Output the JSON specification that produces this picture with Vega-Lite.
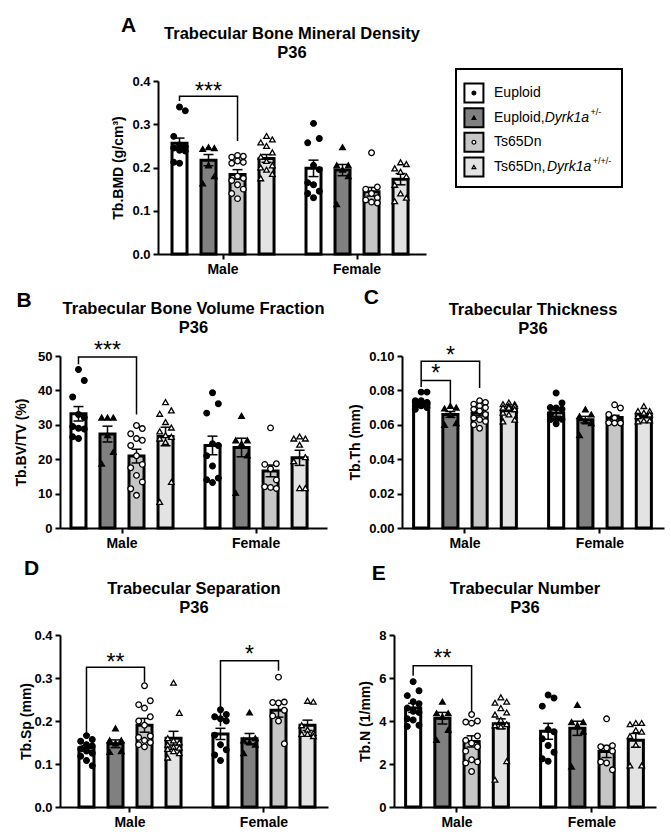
{
  "$schema": "https://vega.github.io/schema/vega-lite/v6.json",
  "background": "white",
  "padding": {"left": 14, "top": 14, "right": 5, "bottom": 5},
  "spacing": 11,
  "config": {
    "font": "Liberation Sans",
    "view": {"stroke": null},
    "axis": {"domainColor": "black", "domainWidth": 2, "tickColor": "black", "tickWidth": 2, "tickSize": 5, "labelFont": "Liberation Sans", "labelFontWeight": "bold", "labelFontSize": 13, "labelColor": "black", "titleFont": "Liberation Sans", "titleFontWeight": "bold", "titleFontSize": 14, "titleColor": "black", "grid": false, "titlePadding": 6, "labelPadding": 3},
    "axisX": {"labelFontSize": 14, "labelAngle": 0},
    "title": {"font": "Liberation Sans", "fontWeight": "bold", "fontSize": 16.5, "color": "black", "lineHeight": 19}
  },
  "datasets": {
    "pts": [
      {"p":"A","s":"Male","g":"Eu","v":[0.340,0.331,0.272,0.252,0.248,0.245,0.240,0.238,0.212,0.210]},
      {"p":"A","s":"Male","g":"EuDy","v":[0.247,0.245,0.243,0.205,0.180,0.163]},
      {"p":"A","s":"Male","g":"Ts","v":[0.228,0.226,0.224,0.215,0.212,0.210,0.180,0.175,0.170,0.160,0.150,0.140,0.128]},
      {"p":"A","s":"Male","g":"TsDy","v":[0.273,0.265,0.258,0.250,0.235,0.225,0.215,0.205,0.200,0.195,0.185,0.175]},
      {"p":"A","s":"Female","g":"Eu","v":[0.302,0.267,0.257,0.205,0.195,0.165,0.160,0.145,0.140,0.130]},
      {"p":"A","s":"Female","g":"EuDy","v":[0.247,0.205,0.205,0.195,0.180,0.115]},
      {"p":"A","s":"Female","g":"Ts","v":[0.234,0.155,0.150,0.140,0.130,0.125,0.120,0.118]},
      {"p":"A","s":"Female","g":"TsDy","v":[0.212,0.208,0.198,0.190,0.180,0.160,0.140,0.130,0.122]},
      {"p":"B","s":"Male","g":"Eu","v":[46.1,42.9,38.1,33.0,32.1,29.5,29.0,28.8,26.5,26.0]},
      {"p":"B","s":"Male","g":"EuDy","v":[32.1,32.1,32.1,27.0,22.1,18.7]},
      {"p":"B","s":"Male","g":"Ts","v":[29.8,28.9,27.4,26.0,25.5,24.0,21.0,18.5,17.5,15.3,13.4,11.4,9.5]},
      {"p":"B","s":"Male","g":"TsDy","v":[36.6,34.2,33.2,30.8,29.2,28.1,27.0,26.5,26.0,25.0,13.4,7.6]},
      {"p":"B","s":"Female","g":"Eu","v":[39.3,36.1,33.4,24.5,24.0,21.0,18.0,14.5,14.0,13.2]},
      {"p":"B","s":"Female","g":"EuDy","v":[32.6,25.5,25.5,24.5,21.1,10.2]},
      {"p":"B","s":"Female","g":"Ts","v":[29.1,18.7,18.5,17.2,14.0,12.0,11.8,11.5]},
      {"p":"B","s":"Female","g":"TsDy","v":[26.6,26.0,26.0,24.2,20.6,19.4,11.6,11.6]},
      {"p":"C","s":"Male","g":"Eu","v":[0.079,0.079,0.074,0.074,0.073,0.073,0.072,0.072,0.071,0.071,0.070,0.069]},
      {"p":"C","s":"Male","g":"EuDy","v":[0.071,0.070,0.0695,0.066,0.061,0.060]},
      {"p":"C","s":"Male","g":"Ts","v":[0.074,0.073,0.072,0.071,0.070,0.069,0.068,0.066,0.064,0.063,0.062,0.060,0.058]},
      {"p":"C","s":"Male","g":"TsDy","v":[0.073,0.072,0.072,0.071,0.071,0.070,0.070,0.069,0.067,0.066,0.063,0.062]},
      {"p":"C","s":"Female","g":"Eu","v":[0.0785,0.0727,0.070,0.0698,0.069,0.066,0.0632,0.0632,0.063,0.0606]},
      {"p":"C","s":"Female","g":"EuDy","v":[0.069,0.066,0.065,0.062,0.061,0.054]},
      {"p":"C","s":"Female","g":"Ts","v":[0.0716,0.0698,0.066,0.064,0.0612,0.0612,0.061,0.061]},
      {"p":"C","s":"Female","g":"TsDy","v":[0.0709,0.068,0.068,0.067,0.066,0.065,0.0625,0.0625,0.062]},
      {"p":"D","s":"Male","g":"Eu","v":[0.166,0.157,0.153,0.145,0.142,0.135,0.130,0.125,0.118,0.108,0.096]},
      {"p":"D","s":"Male","g":"EuDy","v":[0.183,0.155,0.155,0.148,0.130,0.128]},
      {"p":"D","s":"Male","g":"Ts","v":[0.282,0.247,0.238,0.230,0.210,0.200,0.190,0.165,0.162,0.155,0.150,0.145,0.140]},
      {"p":"D","s":"Male","g":"TsDy","v":[0.289,0.219,0.160,0.155,0.150,0.145,0.140,0.138,0.135,0.130,0.125,0.115]},
      {"p":"D","s":"Female","g":"Eu","v":[0.226,0.215,0.210,0.205,0.200,0.167,0.145,0.133,0.121,0.108]},
      {"p":"D","s":"Female","g":"EuDy","v":[0.220,0.160,0.155,0.150,0.145,0.125]},
      {"p":"D","s":"Female","g":"Ts","v":[0.302,0.244,0.243,0.242,0.225,0.212,0.200,0.147]},
      {"p":"D","s":"Female","g":"TsDy","v":[0.247,0.245,0.190,0.180,0.172,0.170,0.170,0.165]},
      {"p":"E","s":"Male","g":"Eu","v":[5.83,5.41,5.18,4.90,4.80,4.60,4.45,4.40,4.10,4.05,3.80,3.75]},
      {"p":"E","s":"Male","g":"EuDy","v":[4.90,4.36,4.36,4.20,3.59,3.12]},
      {"p":"E","s":"Male","g":"Ts","v":[4.30,4.00,3.95,3.90,3.30,3.10,2.97,2.80,2.60,2.20,2.10,2.05,1.65]},
      {"p":"E","s":"Male","g":"TsDy","v":[5.10,4.90,4.85,4.60,4.40,4.30,4.05,3.85,3.80,3.75,2.13,1.27]},
      {"p":"E","s":"Female","g":"Eu","v":[5.21,5.07,4.69,3.60,3.50,3.17,2.86,2.55,2.24,2.13]},
      {"p":"E","s":"Female","g":"EuDy","v":[4.75,3.95,3.95,3.80,3.50,1.88]},
      {"p":"E","s":"Female","g":"Ts","v":[4.10,2.85,2.80,2.75,2.60,2.10,2.05,1.73]},
      {"p":"E","s":"Female","g":"TsDy","v":[3.91,3.91,3.85,3.57,3.50,3.30,2.90,1.93,1.93]}
    ],
    "sum": [
      {"p":"A","s":"Male","g":"Eu","m":0.256,"e":0.012},{"p":"A","s":"Male","g":"EuDy","m":0.217,"e":0.013},{"p":"A","s":"Male","g":"Ts","m":0.184,"e":0.011},{"p":"A","s":"Male","g":"TsDy","m":0.221,"e":0.009},
      {"p":"A","s":"Female","g":"Eu","m":0.198,"e":0.019},{"p":"A","s":"Female","g":"EuDy","m":0.194,"e":0.013},{"p":"A","s":"Female","g":"Ts","m":0.144,"e":0.010},{"p":"A","s":"Female","g":"TsDy","m":0.173,"e":0.013},
      {"p":"B","s":"Male","g":"Eu","m":33.2,"e":2.1},{"p":"B","s":"Male","g":"EuDy","m":27.3,"e":2.3},{"p":"B","s":"Male","g":"Ts","m":20.9,"e":2.0},{"p":"B","s":"Male","g":"TsDy","m":26.6,"e":2.7},
      {"p":"B","s":"Female","g":"Eu","m":24.0,"e":2.7},{"p":"B","s":"Female","g":"EuDy","m":23.4,"e":2.7},{"p":"B","s":"Female","g":"Ts","m":16.6,"e":1.7},{"p":"B","s":"Female","g":"TsDy","m":20.4,"e":2.2},
      {"p":"C","s":"Male","g":"Eu","m":0.0728,"e":0.001},{"p":"C","s":"Male","g":"EuDy","m":0.066,"e":0.0017},{"p":"C","s":"Male","g":"Ts","m":0.0667,"e":0.0015},{"p":"C","s":"Male","g":"TsDy","m":0.0686,"e":0.0008},
      {"p":"C","s":"Female","g":"Eu","m":0.0668,"e":0.0018},{"p":"C","s":"Female","g":"EuDy","m":0.063,"e":0.0019},{"p":"C","s":"Female","g":"Ts","m":0.0642,"e":0.0013},{"p":"C","s":"Female","g":"TsDy","m":0.0652,"e":0.0011},
      {"p":"D","s":"Male","g":"Eu","m":0.137,"e":0.006},{"p":"D","s":"Male","g":"EuDy","m":0.147,"e":0.009},{"p":"D","s":"Male","g":"Ts","m":0.190,"e":0.016},{"p":"D","s":"Male","g":"TsDy","m":0.160,"e":0.016},
      {"p":"D","s":"Female","g":"Eu","m":0.170,"e":0.013},{"p":"D","s":"Female","g":"EuDy","m":0.159,"e":0.012},{"p":"D","s":"Female","g":"Ts","m":0.225,"e":0.016},{"p":"D","s":"Female","g":"TsDy","m":0.190,"e":0.012},
      {"p":"E","s":"Male","g":"Eu","m":4.61,"e":0.21},{"p":"E","s":"Male","g":"EuDy","m":4.13,"e":0.27},{"p":"E","s":"Male","g":"Ts","m":3.05,"e":0.26},{"p":"E","s":"Male","g":"TsDy","m":3.87,"e":0.23},
      {"p":"E","s":"Female","g":"Eu","m":3.52,"e":0.37},{"p":"E","s":"Female","g":"EuDy","m":3.66,"e":0.33},{"p":"E","s":"Female","g":"Ts","m":2.58,"e":0.28},{"p":"E","s":"Female","g":"TsDy","m":3.10,"e":0.32}
    ],
    "br": [
      {"p":"A","id":"a","s":"Male","o":0.5,"v":0.354,"k":1},{"p":"A","id":"a","s":"Male","o":0.5,"v":0.365,"k":2},{"p":"A","id":"a","s":"Male","o":2.5,"v":0.365,"k":3},{"p":"A","id":"a","s":"Male","o":2.5,"v":0.261,"k":4},
      {"p":"B","id":"b","s":"Male","o":0.5,"v":47.6,"k":1},{"p":"B","id":"b","s":"Male","o":0.5,"v":49.7,"k":2},{"p":"B","id":"b","s":"Male","o":2.5,"v":49.7,"k":3},{"p":"B","id":"b","s":"Male","o":2.5,"v":33.0,"k":4},
      {"p":"C","id":"c1","s":"Male","o":0.5,"v":0.082,"k":1},{"p":"C","id":"c1","s":"Male","o":0.5,"v":0.0969,"k":2},{"p":"C","id":"c1","s":"Male","o":2.5,"v":0.0969,"k":3},{"p":"C","id":"c1","s":"Male","o":2.5,"v":0.0814,"k":4},
      {"p":"C","id":"c2","s":"Male","o":0.5,"v":0.0858,"k":1},{"p":"C","id":"c2","s":"Male","o":1.5,"v":0.0858,"k":2},{"p":"C","id":"c2","s":"Male","o":1.5,"v":0.0723,"k":3},
      {"p":"D","id":"d1","s":"Male","o":0.5,"v":0.172,"k":1},{"p":"D","id":"d1","s":"Male","o":0.5,"v":0.325,"k":2},{"p":"D","id":"d1","s":"Male","o":2.5,"v":0.325,"k":3},{"p":"D","id":"d1","s":"Male","o":2.5,"v":0.290,"k":4},
      {"p":"D","id":"d2","s":"Female","o":0.5,"v":0.188,"k":1},{"p":"D","id":"d2","s":"Female","o":0.5,"v":0.340,"k":2},{"p":"D","id":"d2","s":"Female","o":2.5,"v":0.340,"k":3},{"p":"D","id":"d2","s":"Female","o":2.5,"v":0.317,"k":4},
      {"p":"E","id":"e","s":"Male","o":0.5,"v":6.1,"k":1},{"p":"E","id":"e","s":"Male","o":0.5,"v":6.57,"k":2},{"p":"E","id":"e","s":"Male","o":2.5,"v":6.57,"k":3},{"p":"E","id":"e","s":"Male","o":2.5,"v":4.44,"k":4}
    ],
    "st": [
      {"p":"A","s":"Male","o":1.5,"v":0.359,"t":"***"},
      {"p":"B","s":"Male","o":1.5,"v":49.3,"t":"***"},
      {"p":"C","s":"Male","o":1.5,"v":0.0960,"t":"*"},
      {"p":"C","s":"Male","o":1.0,"v":0.0853,"t":"*"},
      {"p":"D","s":"Male","o":1.5,"v":0.319,"t":"**"},
      {"p":"D","s":"Female","o":1.5,"v":0.338,"t":"*"},
      {"p":"E","s":"Male","o":1.5,"v":6.535,"t":"**"}
    ]
  },
  "vconcat": [
    {
      "spacing": 29,
      "hconcat": [
        {"width": 22, "height": 10, "data": {"values": []}, "mark": "point"},
        {
          "title": {"text": "A", "anchor": "start", "fontSize": 21, "dy": 14, "dx": 9},
          "vconcat": [
            {
              "width": 268, "height": 173,
              "title": {"text": ["Trabecular Bone Mineral Density", "P36"], "frame": "group", "offset": 14},
              "encoding": {
                "x": {"field": "s", "type": "nominal", "sort": ["Male", "Female"], "title": null, "scale": {"paddingInner": 0.134, "paddingOuter": 0.067, "align": 0.39}},
                "y": {"field": "v", "type": "quantitative", "title": "Tb.BMD (g/cm³)", "scale": {"domain": [0, 0.4], "nice": false}, "axis": {"values": [0, 0.1, 0.2, 0.3, 0.4], "format": ".1f"}}
              },
              "resolve": {"scale": {"xOffset": "independent", "fill": "independent", "shape": "independent"}},
              "layer": [
                {"data": {"name": "sum"}, "transform": [{"filter": "datum.p=='A'"}, {"calculate": "datum.m", "as": "v"}],
                 "mark": {"type": "bar", "stroke": "black", "strokeWidth": 3},
                 "encoding": {"xOffset": {"field": "g", "type": "nominal", "sort": ["Eu","EuDy","Ts","TsDy"], "scale": {"paddingInner": 0.483, "paddingOuter": 0.2415}},
                   "fill": {"field": "g", "type": "nominal", "scale": {"domain": ["Eu","EuDy","Ts","TsDy"], "range": ["white","#808080","#c6c6c6","#e3e3e3"]}, "legend": null}}},
                {"data": {"name": "sum"}, "transform": [{"filter": "datum.p=='A'"}, {"calculate": "datum.m-datum.e", "as": "v"}, {"calculate": "datum.m+datum.e", "as": "v2"}, {"calculate": "indexof(['Eu','EuDy','Ts','TsDy'],datum.g)+0.5", "as": "o"}],
                 "mark": {"type": "rule", "color": "black", "strokeWidth": 1.5},
                 "encoding": {"xOffset": {"field": "o", "type": "quantitative", "scale": {"domain": [0, 4]}}, "y2": {"field": "v2"}}},
                {"data": {"name": "sum"}, "transform": [{"filter": "datum.p=='A'"}, {"calculate": "datum.m-datum.e", "as": "lo"}, {"calculate": "datum.m+datum.e", "as": "hi"}, {"fold": ["lo", "hi"], "as": ["k", "v"]}, {"calculate": "indexof(['Eu','EuDy','Ts','TsDy'],datum.g)+0.5", "as": "o"}],
                 "mark": {"type": "tick", "orient": "horizontal", "size": 10, "thickness": 1.5, "color": "black", "opacity": 1},
                 "encoding": {"xOffset": {"field": "o", "type": "quantitative", "scale": {"domain": [0, 4]}}}},
                {"data": {"name": "pts"}, "transform": [{"filter": "datum.p=='A'"}, {"flatten": ["v"]}, {"window": [{"op": "row_number", "as": "rn"}], "groupby": ["s", "g"], "sort": [{"field": "v", "order": "descending"}]}, {"calculate": "indexof(['Eu','EuDy','Ts','TsDy'],datum.g)+0.5+0.2*((datum.rn%3)-1)", "as": "o"}],
                 "mark": {"type": "point", "stroke": "black", "strokeWidth": 1.3, "size": 32, "opacity": 1, "fillOpacity": 1},
                 "encoding": {"xOffset": {"field": "o", "type": "quantitative", "scale": {"domain": [0, 4]}},
                   "fill": {"field": "g", "type": "nominal", "scale": {"domain": ["Eu","EuDy","Ts","TsDy"], "range": ["black","black","white","white"]}, "legend": null},
                   "shape": {"field": "g", "type": "nominal", "scale": {"domain": ["Eu","EuDy","Ts","TsDy"], "range": ["circle","triangle-up","circle","triangle-up"]}, "legend": null}}},
                {"data": {"name": "br"}, "transform": [{"filter": "datum.p=='A'"}],
                 "mark": {"type": "line", "color": "black", "strokeWidth": 1.5},
                 "encoding": {"xOffset": {"field": "o", "type": "quantitative", "scale": {"domain": [0, 4]}}, "detail": {"field": "id"}, "order": {"field": "k"}}},
                {"data": {"name": "st"}, "transform": [{"filter": "datum.p=='A'"}],
                 "mark": {"type": "text", "fontSize": 23, "baseline": "alphabetic", "align": "center", "color": "black"},
                 "encoding": {"xOffset": {"field": "o", "type": "quantitative", "scale": {"domain": [0, 4]}}, "text": {"field": "t"}}}
              ]
            }
          ]
        },
        {
          "width": 166, "height": 118,
          "data": {"values": [{"r":0,"g":"Eu","t":"Euploid"},{"r":1,"g":"EuDy","t":"Euploid,"},{"r":2,"g":"Ts","t":"Ts65Dn"},{"r":3,"g":"TsDy","t":"Ts65Dn,"}]},
          "encoding": {
            "y": {"field": "r", "type": "quantitative", "scale": {"domain": [-0.486, 4.297], "reverse": true, "nice": false, "zero": false}, "axis": null}
          },
          "resolve": {"scale": {"fill": "independent", "shape": "independent"}},
          "layer": [
            {"data": {"values": [{"x0": 0, "x1": 10, "y0": -0.973, "y1": 3.81}]}, "mark": {"type": "rect", "filled": false, "stroke": "black", "strokeWidth": 2, "strokeOpacity": 1, "opacity": 1},
             "encoding": {"x": {"field": "x0", "type": "quantitative", "scale": {"domain": [0, 10], "nice": false, "zero": false}, "axis": null}, "x2": {"field": "x1"},
               "y": {"field": "y0", "type": "quantitative"}, "y2": {"field": "y1"}}},
            {"mark": {"type": "point", "shape": "square", "size": 361, "stroke": "black", "strokeWidth": 2, "opacity": 1, "fillOpacity": 1},
             "encoding": {"x": {"datum": 1.08, "type": "quantitative"},
               "fill": {"field": "g", "type": "nominal", "scale": {"domain": ["Eu","EuDy","Ts","TsDy"], "range": ["white","#808080","#c6c6c6","#e3e3e3"]}, "legend": null}}},
            {"mark": {"type": "point", "stroke": "black", "strokeWidth": 1.2, "size": 14, "opacity": 1, "fillOpacity": 1},
             "encoding": {"x": {"datum": 1.08, "type": "quantitative"},
               "fill": {"field": "g", "type": "nominal", "scale": {"domain": ["Eu","EuDy","Ts","TsDy"], "range": ["black","black","white","white"]}, "legend": null},
               "shape": {"field": "g", "type": "nominal", "scale": {"domain": ["Eu","EuDy","Ts","TsDy"], "range": ["circle","triangle-up","circle","triangle-up"]}, "legend": null}}},
            {"mark": {"type": "text", "align": "left", "baseline": "middle", "fontSize": 14, "color": "black"},
             "encoding": {"x": {"datum": 2.29, "type": "quantitative"}, "text": {"field": "t"}}},
            {"data": {"values": [{"r": 1, "t": "Dyrk1a"}]}, "mark": {"type": "text", "align": "left", "baseline": "middle", "fontSize": 14, "fontStyle": "italic", "color": "black"},
             "encoding": {"x": {"datum": 5.34, "type": "quantitative"}, "text": {"field": "t"}}},
            {"data": {"values": [{"r": 1, "t": "+/-"}]}, "mark": {"type": "text", "align": "left", "baseline": "middle", "fontSize": 9, "dy": -6, "color": "black"},
             "encoding": {"x": {"datum": 8.1, "type": "quantitative"}, "text": {"field": "t"}}},
            {"data": {"values": [{"r": 3, "t": "Dyrk1a"}]}, "mark": {"type": "text", "align": "left", "baseline": "middle", "fontSize": 14, "fontStyle": "italic", "color": "black"},
             "encoding": {"x": {"datum": 5.48, "type": "quantitative"}, "text": {"field": "t"}}},
            {"data": {"values": [{"r": 3, "t": "+/+/-"}]}, "mark": {"type": "text", "align": "left", "baseline": "middle", "fontSize": 9, "dy": -6, "color": "black"},
             "encoding": {"x": {"datum": 8.24, "type": "quantitative"}, "text": {"field": "t"}}}
          ]
        }
      ]
    },
    {
      "spacing": 7,
      "vconcat": [
        {
          "spacing": 21,
          "hconcat": [
            {
              "title": {"text": "B", "anchor": "start", "fontSize": 21, "dy": 14, "dx": 2},
              "vconcat": [
                {
                  "width": 267, "height": 172,
                  "title": {"text": ["Trabecular Bone Volume Fraction", "P36"], "frame": "group", "offset": 4},
                  "encoding": {
                    "x": {"field": "s", "type": "nominal", "sort": ["Male", "Female"], "title": null, "scale": {"paddingInner": 0.134, "paddingOuter": 0.063, "align": 0.235}},
                    "y": {"field": "v", "type": "quantitative", "title": "Tb.BV/TV (%)", "scale": {"domain": [0, 50], "nice": false}, "axis": {"values": [0, 10, 20, 30, 40, 50], "format": "d", "titlePadding": 9}}
                  },
                  "resolve": {"scale": {"xOffset": "independent", "fill": "independent", "shape": "independent"}},
                  "layer": [
                    {"data": {"name": "sum"}, "transform": [{"filter": "datum.p=='B'"}, {"calculate": "datum.m", "as": "v"}],
                     "mark": {"type": "bar", "stroke": "black", "strokeWidth": 3},
                     "encoding": {"xOffset": {"field": "g", "type": "nominal", "sort": ["Eu","EuDy","Ts","TsDy"], "scale": {"paddingInner": 0.483, "paddingOuter": 0.2415}},
                       "fill": {"field": "g", "type": "nominal", "scale": {"domain": ["Eu","EuDy","Ts","TsDy"], "range": ["white","#808080","#c6c6c6","#e3e3e3"]}, "legend": null}}},
                    {"data": {"name": "sum"}, "transform": [{"filter": "datum.p=='B'"}, {"calculate": "datum.m-datum.e", "as": "v"}, {"calculate": "datum.m+datum.e", "as": "v2"}, {"calculate": "indexof(['Eu','EuDy','Ts','TsDy'],datum.g)+0.5", "as": "o"}],
                     "mark": {"type": "rule", "color": "black", "strokeWidth": 1.5},
                     "encoding": {"xOffset": {"field": "o", "type": "quantitative", "scale": {"domain": [0, 4]}}, "y2": {"field": "v2"}}},
                    {"data": {"name": "sum"}, "transform": [{"filter": "datum.p=='B'"}, {"calculate": "datum.m-datum.e", "as": "lo"}, {"calculate": "datum.m+datum.e", "as": "hi"}, {"fold": ["lo", "hi"], "as": ["k", "v"]}, {"calculate": "indexof(['Eu','EuDy','Ts','TsDy'],datum.g)+0.5", "as": "o"}],
                     "mark": {"type": "tick", "orient": "horizontal", "size": 10, "thickness": 1.5, "color": "black", "opacity": 1},
                     "encoding": {"xOffset": {"field": "o", "type": "quantitative", "scale": {"domain": [0, 4]}}}},
                    {"data": {"name": "pts"}, "transform": [{"filter": "datum.p=='B'"}, {"flatten": ["v"]}, {"window": [{"op": "row_number", "as": "rn"}], "groupby": ["s", "g"], "sort": [{"field": "v", "order": "descending"}]}, {"calculate": "indexof(['Eu','EuDy','Ts','TsDy'],datum.g)+0.5+0.2*((datum.rn%3)-1)", "as": "o"}],
                     "mark": {"type": "point", "stroke": "black", "strokeWidth": 1.3, "size": 32, "opacity": 1, "fillOpacity": 1},
                     "encoding": {"xOffset": {"field": "o", "type": "quantitative", "scale": {"domain": [0, 4]}},
                       "fill": {"field": "g", "type": "nominal", "scale": {"domain": ["Eu","EuDy","Ts","TsDy"], "range": ["black","black","white","white"]}, "legend": null},
                       "shape": {"field": "g", "type": "nominal", "scale": {"domain": ["Eu","EuDy","Ts","TsDy"], "range": ["circle","triangle-up","circle","triangle-up"]}, "legend": null}}},
                    {"data": {"name": "br"}, "transform": [{"filter": "datum.p=='B'"}],
                     "mark": {"type": "line", "color": "black", "strokeWidth": 1.5},
                     "encoding": {"xOffset": {"field": "o", "type": "quantitative", "scale": {"domain": [0, 4]}}, "detail": {"field": "id"}, "order": {"field": "k"}}},
                    {"data": {"name": "st"}, "transform": [{"filter": "datum.p=='B'"}],
                     "mark": {"type": "text", "fontSize": 23, "baseline": "alphabetic", "align": "center", "color": "black"},
                     "encoding": {"xOffset": {"field": "o", "type": "quantitative", "scale": {"domain": [0, 4]}}, "text": {"field": "t"}}}
                  ]
                }
              ]
            },
            {
              "title": {"text": "C", "anchor": "start", "fontSize": 21, "dy": 10, "dx": 15},
              "vconcat": [
                {
                  "width": 262, "height": 172,
                  "title": {"text": ["Trabecular Thickness", "P36"], "frame": "group", "offset": 7},
                  "encoding": {
                    "x": {"field": "s", "type": "nominal", "sort": ["Male", "Female"], "title": null, "scale": {"paddingInner": 0.134, "paddingOuter": 0.0374, "align": 0.45}},
                    "y": {"field": "v", "type": "quantitative", "title": "Tb.Th (mm)", "scale": {"domain": [0, 0.1], "nice": false}, "axis": {"values": [0, 0.02, 0.04, 0.06, 0.08, 0.1], "format": ".2f"}}
                  },
                  "resolve": {"scale": {"xOffset": "independent", "fill": "independent", "shape": "independent"}},
                  "layer": [
                    {"data": {"name": "sum"}, "transform": [{"filter": "datum.p=='C'"}, {"calculate": "datum.m", "as": "v"}],
                     "mark": {"type": "bar", "stroke": "black", "strokeWidth": 3},
                     "encoding": {"xOffset": {"field": "g", "type": "nominal", "sort": ["Eu","EuDy","Ts","TsDy"], "scale": {"paddingInner": 0.483, "paddingOuter": 0.2415}},
                       "fill": {"field": "g", "type": "nominal", "scale": {"domain": ["Eu","EuDy","Ts","TsDy"], "range": ["white","#808080","#c6c6c6","#e3e3e3"]}, "legend": null}}},
                    {"data": {"name": "sum"}, "transform": [{"filter": "datum.p=='C'"}, {"calculate": "datum.m-datum.e", "as": "v"}, {"calculate": "datum.m+datum.e", "as": "v2"}, {"calculate": "indexof(['Eu','EuDy','Ts','TsDy'],datum.g)+0.5", "as": "o"}],
                     "mark": {"type": "rule", "color": "black", "strokeWidth": 1.5},
                     "encoding": {"xOffset": {"field": "o", "type": "quantitative", "scale": {"domain": [0, 4]}}, "y2": {"field": "v2"}}},
                    {"data": {"name": "sum"}, "transform": [{"filter": "datum.p=='C'"}, {"calculate": "datum.m-datum.e", "as": "lo"}, {"calculate": "datum.m+datum.e", "as": "hi"}, {"fold": ["lo", "hi"], "as": ["k", "v"]}, {"calculate": "indexof(['Eu','EuDy','Ts','TsDy'],datum.g)+0.5", "as": "o"}],
                     "mark": {"type": "tick", "orient": "horizontal", "size": 10, "thickness": 1.5, "color": "black", "opacity": 1},
                     "encoding": {"xOffset": {"field": "o", "type": "quantitative", "scale": {"domain": [0, 4]}}}},
                    {"data": {"name": "pts"}, "transform": [{"filter": "datum.p=='C'"}, {"flatten": ["v"]}, {"window": [{"op": "row_number", "as": "rn"}], "groupby": ["s", "g"], "sort": [{"field": "v", "order": "descending"}]}, {"calculate": "indexof(['Eu','EuDy','Ts','TsDy'],datum.g)+0.5+0.2*((datum.rn%3)-1)", "as": "o"}],
                     "mark": {"type": "point", "stroke": "black", "strokeWidth": 1.3, "size": 32, "opacity": 1, "fillOpacity": 1},
                     "encoding": {"xOffset": {"field": "o", "type": "quantitative", "scale": {"domain": [0, 4]}},
                       "fill": {"field": "g", "type": "nominal", "scale": {"domain": ["Eu","EuDy","Ts","TsDy"], "range": ["black","black","white","white"]}, "legend": null},
                       "shape": {"field": "g", "type": "nominal", "scale": {"domain": ["Eu","EuDy","Ts","TsDy"], "range": ["circle","triangle-up","circle","triangle-up"]}, "legend": null}}},
                    {"data": {"name": "br"}, "transform": [{"filter": "datum.p=='C'"}],
                     "mark": {"type": "line", "color": "black", "strokeWidth": 1.5},
                     "encoding": {"xOffset": {"field": "o", "type": "quantitative", "scale": {"domain": [0, 4]}}, "detail": {"field": "id"}, "order": {"field": "k"}}},
                    {"data": {"name": "st"}, "transform": [{"filter": "datum.p=='C'"}],
                     "mark": {"type": "text", "fontSize": 23, "baseline": "alphabetic", "align": "center", "color": "black"},
                     "encoding": {"xOffset": {"field": "o", "type": "quantitative", "scale": {"domain": [0, 4]}}, "text": {"field": "t"}}}
                  ]
                }
              ]
            }
          ]
        },
        {
          "spacing": 30,
          "hconcat": [
            {
              "title": {"text": "D", "anchor": "start", "fontSize": 21, "dy": 7, "dx": 4, "offset": 9},
              "vconcat": [
                {
                  "width": 268, "height": 172,
                  "title": {"text": ["Trabecular Separation", "P36"], "frame": "group", "offset": 13},
                  "encoding": {
                    "x": {"field": "s", "type": "nominal", "sort": ["Male", "Female"], "title": null, "scale": {"paddingInner": 0.134, "paddingOuter": 0.067, "align": 0.667}},
                    "y": {"field": "v", "type": "quantitative", "title": "Tb.Sp (mm)", "scale": {"domain": [0, 0.4], "nice": false}, "axis": {"values": [0, 0.1, 0.2, 0.3, 0.4], "format": ".1f", "titlePadding": 0}}
                  },
                  "resolve": {"scale": {"xOffset": "independent", "fill": "independent", "shape": "independent"}},
                  "layer": [
                    {"data": {"name": "sum"}, "transform": [{"filter": "datum.p=='D'"}, {"calculate": "datum.m", "as": "v"}],
                     "mark": {"type": "bar", "stroke": "black", "strokeWidth": 3},
                     "encoding": {"xOffset": {"field": "g", "type": "nominal", "sort": ["Eu","EuDy","Ts","TsDy"], "scale": {"paddingInner": 0.483, "paddingOuter": 0.2415}},
                       "fill": {"field": "g", "type": "nominal", "scale": {"domain": ["Eu","EuDy","Ts","TsDy"], "range": ["white","#808080","#c6c6c6","#e3e3e3"]}, "legend": null}}},
                    {"data": {"name": "sum"}, "transform": [{"filter": "datum.p=='D'"}, {"calculate": "datum.m-datum.e", "as": "v"}, {"calculate": "datum.m+datum.e", "as": "v2"}, {"calculate": "indexof(['Eu','EuDy','Ts','TsDy'],datum.g)+0.5", "as": "o"}],
                     "mark": {"type": "rule", "color": "black", "strokeWidth": 1.5},
                     "encoding": {"xOffset": {"field": "o", "type": "quantitative", "scale": {"domain": [0, 4]}}, "y2": {"field": "v2"}}},
                    {"data": {"name": "sum"}, "transform": [{"filter": "datum.p=='D'"}, {"calculate": "datum.m-datum.e", "as": "lo"}, {"calculate": "datum.m+datum.e", "as": "hi"}, {"fold": ["lo", "hi"], "as": ["k", "v"]}, {"calculate": "indexof(['Eu','EuDy','Ts','TsDy'],datum.g)+0.5", "as": "o"}],
                     "mark": {"type": "tick", "orient": "horizontal", "size": 10, "thickness": 1.5, "color": "black", "opacity": 1},
                     "encoding": {"xOffset": {"field": "o", "type": "quantitative", "scale": {"domain": [0, 4]}}}},
                    {"data": {"name": "pts"}, "transform": [{"filter": "datum.p=='D'"}, {"flatten": ["v"]}, {"window": [{"op": "row_number", "as": "rn"}], "groupby": ["s", "g"], "sort": [{"field": "v", "order": "descending"}]}, {"calculate": "indexof(['Eu','EuDy','Ts','TsDy'],datum.g)+0.5+0.2*((datum.rn%3)-1)", "as": "o"}],
                     "mark": {"type": "point", "stroke": "black", "strokeWidth": 1.3, "size": 32, "opacity": 1, "fillOpacity": 1},
                     "encoding": {"xOffset": {"field": "o", "type": "quantitative", "scale": {"domain": [0, 4]}},
                       "fill": {"field": "g", "type": "nominal", "scale": {"domain": ["Eu","EuDy","Ts","TsDy"], "range": ["black","black","white","white"]}, "legend": null},
                       "shape": {"field": "g", "type": "nominal", "scale": {"domain": ["Eu","EuDy","Ts","TsDy"], "range": ["circle","triangle-up","circle","triangle-up"]}, "legend": null}}},
                    {"data": {"name": "br"}, "transform": [{"filter": "datum.p=='D'"}],
                     "mark": {"type": "line", "color": "black", "strokeWidth": 1.5},
                     "encoding": {"xOffset": {"field": "o", "type": "quantitative", "scale": {"domain": [0, 4]}}, "detail": {"field": "id"}, "order": {"field": "k"}}},
                    {"data": {"name": "st"}, "transform": [{"filter": "datum.p=='D'"}],
                     "mark": {"type": "text", "fontSize": 23, "baseline": "alphabetic", "align": "center", "color": "black"},
                     "encoding": {"xOffset": {"field": "o", "type": "quantitative", "scale": {"domain": [0, 4]}}, "text": {"field": "t"}}}
                  ]
                }
              ]
            },
            {
              "title": {"text": "E", "anchor": "start", "fontSize": 21, "dy": 12, "dx": 13, "offset": 9},
              "vconcat": [
                {
                  "width": 262, "height": 172,
                  "title": {"text": ["Trabecular Number", "P36"], "frame": "group", "offset": 13},
                  "encoding": {
                    "x": {"field": "s", "type": "nominal", "sort": ["Male", "Female"], "title": null, "scale": {"paddingInner": 0.134, "paddingOuter": 0.0374, "align": 0.45}},
                    "y": {"field": "v", "type": "quantitative", "title": "Tb.N (1/mm)", "scale": {"domain": [0, 8], "nice": false}, "axis": {"values": [0, 2, 4, 6, 8], "format": "d"}}
                  },
                  "resolve": {"scale": {"xOffset": "independent", "fill": "independent", "shape": "independent"}},
                  "layer": [
                    {"data": {"name": "sum"}, "transform": [{"filter": "datum.p=='E'"}, {"calculate": "datum.m", "as": "v"}],
                     "mark": {"type": "bar", "stroke": "black", "strokeWidth": 3},
                     "encoding": {"xOffset": {"field": "g", "type": "nominal", "sort": ["Eu","EuDy","Ts","TsDy"], "scale": {"paddingInner": 0.483, "paddingOuter": 0.2415}},
                       "fill": {"field": "g", "type": "nominal", "scale": {"domain": ["Eu","EuDy","Ts","TsDy"], "range": ["white","#808080","#c6c6c6","#e3e3e3"]}, "legend": null}}},
                    {"data": {"name": "sum"}, "transform": [{"filter": "datum.p=='E'"}, {"calculate": "datum.m-datum.e", "as": "v"}, {"calculate": "datum.m+datum.e", "as": "v2"}, {"calculate": "indexof(['Eu','EuDy','Ts','TsDy'],datum.g)+0.5", "as": "o"}],
                     "mark": {"type": "rule", "color": "black", "strokeWidth": 1.5},
                     "encoding": {"xOffset": {"field": "o", "type": "quantitative", "scale": {"domain": [0, 4]}}, "y2": {"field": "v2"}}},
                    {"data": {"name": "sum"}, "transform": [{"filter": "datum.p=='E'"}, {"calculate": "datum.m-datum.e", "as": "lo"}, {"calculate": "datum.m+datum.e", "as": "hi"}, {"fold": ["lo", "hi"], "as": ["k", "v"]}, {"calculate": "indexof(['Eu','EuDy','Ts','TsDy'],datum.g)+0.5", "as": "o"}],
                     "mark": {"type": "tick", "orient": "horizontal", "size": 10, "thickness": 1.5, "color": "black", "opacity": 1},
                     "encoding": {"xOffset": {"field": "o", "type": "quantitative", "scale": {"domain": [0, 4]}}}},
                    {"data": {"name": "pts"}, "transform": [{"filter": "datum.p=='E'"}, {"flatten": ["v"]}, {"window": [{"op": "row_number", "as": "rn"}], "groupby": ["s", "g"], "sort": [{"field": "v", "order": "descending"}]}, {"calculate": "indexof(['Eu','EuDy','Ts','TsDy'],datum.g)+0.5+0.2*((datum.rn%3)-1)", "as": "o"}],
                     "mark": {"type": "point", "stroke": "black", "strokeWidth": 1.3, "size": 32, "opacity": 1, "fillOpacity": 1},
                     "encoding": {"xOffset": {"field": "o", "type": "quantitative", "scale": {"domain": [0, 4]}},
                       "fill": {"field": "g", "type": "nominal", "scale": {"domain": ["Eu","EuDy","Ts","TsDy"], "range": ["black","black","white","white"]}, "legend": null},
                       "shape": {"field": "g", "type": "nominal", "scale": {"domain": ["Eu","EuDy","Ts","TsDy"], "range": ["circle","triangle-up","circle","triangle-up"]}, "legend": null}}},
                    {"data": {"name": "br"}, "transform": [{"filter": "datum.p=='E'"}],
                     "mark": {"type": "line", "color": "black", "strokeWidth": 1.5},
                     "encoding": {"xOffset": {"field": "o", "type": "quantitative", "scale": {"domain": [0, 4]}}, "detail": {"field": "id"}, "order": {"field": "k"}}},
                    {"data": {"name": "st"}, "transform": [{"filter": "datum.p=='E'"}],
                     "mark": {"type": "text", "fontSize": 23, "baseline": "alphabetic", "align": "center", "color": "black"},
                     "encoding": {"xOffset": {"field": "o", "type": "quantitative", "scale": {"domain": [0, 4]}}, "text": {"field": "t"}}}
                  ]
                }
              ]
            }
          ]
        }
      ]
    }
  ]
}
